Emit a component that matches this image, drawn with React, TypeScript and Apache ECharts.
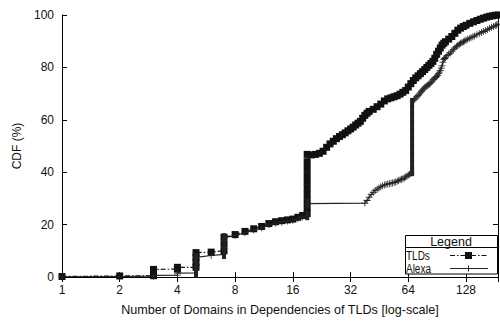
import React, { useEffect, useRef } from "react";
import * as echarts from "echarts";

// ---- data ----
const xTicks = [1, 2, 4, 8, 16, 32, 64, 128];
const yTicks = [0, 20, 40, 60, 80, 100];
const xMin = 1;
const xMax = 188;

const seriesNames = ["TLDs", "Alexa"];

// TLDs: number of domains (x) and CDF % (y)
const tldX = [
  1, 2, 3, 3, 3, 4, 4, 5, 5, 5, 5, 6, 7, 7, 7, 8, 9, 10, 11, 12, 13, 14, 15, 16, 17, 18,
  19, 19, 19, 19, 19, 19, 19, 19, 19, 19,
  20, 21, 22, 23, 24, 25, 26, 27, 28, 29, 30, 31, 32, 33, 34, 35, 36, 37, 38, 39, 40,
  42, 44, 46, 48, 50, 52, 54, 56, 58, 60, 62, 64, 66, 68, 70, 72, 74, 76, 78, 80,
  82, 84, 86, 88, 90, 92, 94, 96, 98, 100, 104, 108, 112, 116, 120, 124, 128,
  134, 140, 146, 152, 158, 164, 170, 176, 182, 188,
];
const tldY = [
  0.2, 0.4, 0.5, 1.6, 2.9, 3.0, 3.7, 3.7, 5.6, 7.5, 9.3, 9.5, 10.0, 12.6, 15.2, 16.2, 17.4, 18.4, 19.3, 20.4, 21.1, 21.5, 21.8, 22.1, 22.8, 23.5,
  24.2, 26.5, 29.0, 31.5, 34.0, 36.5, 39.0, 41.5, 44.0, 46.8,
  46.6, 46.8, 47.2, 48.0, 49.5, 50.8, 51.8, 52.8, 53.6, 54.3, 55.0, 55.8, 56.5, 57.2, 58.0, 58.7, 59.4, 60.6, 61.7, 62.5, 63.2,
  64.0, 65.0, 66.0, 67.2, 68.0, 68.4, 68.8, 69.2, 69.8, 70.5, 71.2, 72.5, 73.8, 75.0, 76.0, 76.8, 77.6, 78.4, 79.2, 80.0,
  80.8, 81.5, 82.3, 83.5, 85.0, 86.2, 87.4, 88.5, 89.2, 89.8, 90.8, 91.8, 93.0, 94.2, 95.0, 95.6, 96.1,
  96.8, 97.4, 97.9, 98.4, 98.8, 99.2, 99.5, 99.7, 99.9, 100,
];

// Alexa: number of domains (x) and CDF % (y)
const alexaX = [
  1, 2, 3, 3, 4, 4, 5, 5, 5, 6, 7, 7, 7, 8, 9, 10, 11, 12, 13, 14, 15, 16, 17, 18, 19, 19,
  38, 39, 40, 41, 42, 43, 44, 45, 46, 47, 48, 49, 50, 51, 52, 53, 54, 55, 56, 57, 58, 59, 60,
  61, 62, 63, 64, 65, 66,
  67, 67, 67, 67, 67, 67, 67, 67, 67, 67,
  68, 69, 70, 71, 72, 73, 74, 75, 76, 77, 78, 79, 80, 81, 82, 83, 84, 85, 86, 87, 88, 89, 90,
  91, 92, 93, 94, 95, 96, 97, 98, 99, 100, 102, 104, 106, 108, 110, 112, 114, 116, 118, 120,
  122, 124, 126, 128, 130, 133, 136, 139, 142, 146, 150, 154, 158, 162, 166, 170, 174, 178,
  182, 185, 188,
];
const alexaY = [
  0.1, 0.2, 0.3, 0.6, 0.7, 1.5, 1.6, 4.5, 7.5, 8.2, 8.6, 12.0, 15.0, 15.8, 16.9, 17.9, 18.8, 19.9, 20.6, 21.0, 21.4, 21.7, 22.3, 23.0, 23.4, 28.0,
  28.2, 29.2, 30.5, 31.5, 32.3, 33.0, 33.5, 34.0, 34.4, 34.8, 35.1, 35.3, 35.5, 35.6, 35.8, 35.9, 36.1, 36.3, 36.5, 36.8, 37.1, 37.3, 37.5,
  37.8, 38.2, 38.5, 38.9, 39.2, 39.6,
  40.2, 43.0, 46.0, 49.0, 52.0, 55.0, 58.0, 61.0, 64.0, 66.6,
  67.2, 67.8, 68.3, 68.8, 69.3, 69.8, 70.3, 70.9, 71.4, 71.8, 72.2, 72.6, 72.9, 73.2, 73.5, 73.8, 74.3, 74.8, 75.2, 75.5, 75.9, 76.2, 76.5,
  77.0, 77.6, 78.2, 78.8, 79.7, 80.6, 82.0, 83.0, 83.4, 83.8, 84.5, 85.0, 85.5, 86.2, 86.8, 87.4, 88.0, 88.4, 88.8, 89.2,
  89.5, 89.8, 90.1, 90.4, 90.7, 91.0, 91.4, 91.7, 92.0, 92.5, 92.9, 93.3, 93.7, 94.1, 94.5, 94.9, 95.3, 95.6,
  96.0, 96.2, 96.5,
];

const FONT = "'Liberation Sans', Arial, Helvetica, sans-serif";
const INK = "#111";

function pairs(xs: number[], ys: number[]) {
  return xs.map((x, i) => [x, ys[i]]);
}

// points inside a vertical run (same x as a neighbour) are drawn as a solid block
function alexaData() {
  return alexaX.map((x, i) => {
    const inRun =
      (i > 0 && alexaX[i - 1] === x && alexaY[i] - alexaY[i - 1] > 2) ||
      (i < alexaX.length - 1 && alexaX[i + 1] === x && alexaY[i + 1] - alexaY[i] > 2);
    if (inRun) {
      return { value: [x, alexaY[i]], symbol: "rect", symbolSize: [4, 9] };
    }
    return [x, alexaY[i]];
  });
}

const isPow2 = (v: number) => {
  const l = Math.log2(v);
  return Math.abs(l - Math.round(l)) < 1e-6;
};

export default function App() {
  const ref = useRef<HTMLDivElement>(null);
  useEffect(() => {
    if (!ref.current) return;
    const chart = echarts.init(ref.current, undefined, { renderer: "svg" });
    const xLabelFmt = (v: number) => {
      if (!isPow2(v)) return "";
      const r = Math.round(v);
      return xTicks.indexOf(r) >= 0 ? String(r) : "";
    };
    const baseX = {
      type: "log" as const,
      logBase: 2,
      min: xMin,
      max: xMax,
      axisLine: { show: true, lineStyle: { color: "#000", width: 1 } },
      axisTick: { show: true, inside: true, length: 5, lineStyle: { color: "#000", width: 1 } },
      splitLine: { show: false },
      minorTick: { show: false },
    };
    const baseY = {
      type: "value" as const,
      min: 0,
      max: 100,
      interval: 20,
      axisLine: { show: true, lineStyle: { color: "#000", width: 1 } },
      axisTick: { show: true, inside: true, length: 5, lineStyle: { color: "#000", width: 1 } },
      splitLine: { show: false },
    };
    chart.setOption({
      animation: false,
      backgroundColor: "#fff",
      grid: { left: 62, right: 2, top: 15, bottom: 42, containLabel: false },
      xAxis: [
        {
          ...baseX,
          position: "bottom",
          axisLabel: {
            color: INK,
            fontSize: 12,
            fontFamily: FONT,
            margin: 7,
            formatter: xLabelFmt,
            showMaxLabel: false,
          },
          name: "Number of Domains in Dependencies of TLDs [log-scale]",
          nameLocation: "middle",
          nameGap: 26,
          nameTextStyle: { color: INK, fontSize: 12.6, fontFamily: FONT },
        },
        {
          ...baseX,
          position: "top",
          axisLabel: { show: false },
        },
      ],
      yAxis: [
        {
          ...baseY,
          position: "left",
          axisLabel: {
            color: INK,
            fontSize: 12,
            fontFamily: FONT,
            margin: 8,
            formatter: (v: number) => (yTicks.indexOf(v) >= 0 ? String(v) : ""),
          },
          name: "CDF (%)",
          nameLocation: "middle",
          nameGap: 36,
          nameTextStyle: { color: INK, fontSize: 12, fontFamily: FONT },
        },
        {
          ...baseY,
          position: "right",
          axisLabel: { show: false },
        },
      ],
      series: [
        {
          name: seriesNames[0],
          type: "line",
          xAxisIndex: 0,
          yAxisIndex: 0,
          data: pairs(tldX, tldY),
          symbol: "rect",
          symbolSize: 7,
          itemStyle: { color: INK },
          lineStyle: { color: INK, width: 1.2, type: [5, 2, 1.5, 2] },
          emphasis: { disabled: true },
          z: 2,
        },
        {
          name: seriesNames[1],
          type: "line",
          xAxisIndex: 0,
          yAxisIndex: 0,
          data: alexaData(),
          symbol: "path://M4 0 L5 0 L5 4 L9 4 L9 5 L5 5 L5 9 L4 9 L4 5 L0 5 L0 4 L4 4 Z",
          symbolSize: 7,
          itemStyle: { color: "#222" },
          lineStyle: { color: "#222", width: 1.2 },
          emphasis: { disabled: true },
          z: 3,
        },
      ],
      graphic: [
        {
          type: "rect",
          z: 100,
          shape: { x: 405.5, y: 235.5, width: 92, height: 38.5 },
          style: { fill: "#fff", stroke: "#000", lineWidth: 1 },
        },
        {
          type: "line",
          z: 101,
          shape: { x1: 405.5, y1: 247.5, x2: 497.5, y2: 247.5 },
          style: { stroke: "#000", lineWidth: 1 },
        },
        {
          type: "text",
          z: 101,
          x: 451,
          y: 241.8,
          style: {
            text: "Legend",
            fill: INK,
            font: `12.5px ${FONT}`,
            textAlign: "center",
            textVerticalAlign: "middle",
          },
        },
        {
          type: "text",
          z: 101,
          x: 406,
          y: 255.5,
          scaleX: 0.74,
          style: {
            text: seriesNames[0],
            fill: INK,
            font: `13.5px ${FONT}`,
            textAlign: "left",
            textVerticalAlign: "middle",
          },
        },
        {
          type: "text",
          z: 101,
          x: 406,
          y: 268.5,
          scaleX: 0.74,
          style: {
            text: seriesNames[1],
            fill: INK,
            font: `13.5px ${FONT}`,
            textAlign: "left",
            textVerticalAlign: "middle",
          },
        },
        {
          type: "line",
          z: 101,
          shape: { x1: 450, y1: 255.5, x2: 488, y2: 255.5 },
          style: { stroke: INK, lineWidth: 1.2, lineDash: [5, 2, 1.5, 2] },
        },
        {
          type: "rect",
          z: 102,
          shape: { x: 465, y: 252, width: 7, height: 7 },
          style: { fill: INK },
        },
        {
          type: "line",
          z: 101,
          shape: { x1: 450, y1: 268.5, x2: 488, y2: 268.5 },
          style: { stroke: "#222", lineWidth: 1 },
        },
        {
          type: "line",
          z: 101,
          shape: { x1: 468.5, y1: 265.5, x2: 468.5, y2: 271.5 },
          style: { stroke: "#222", lineWidth: 1 },
        },
      ],
    });
    return () => chart.dispose();
  }, []);
  return (
    <div
      ref={ref}
      style={{ position: "absolute", left: 0, top: 0, width: 500, height: 321 }}
    />
  );
}
